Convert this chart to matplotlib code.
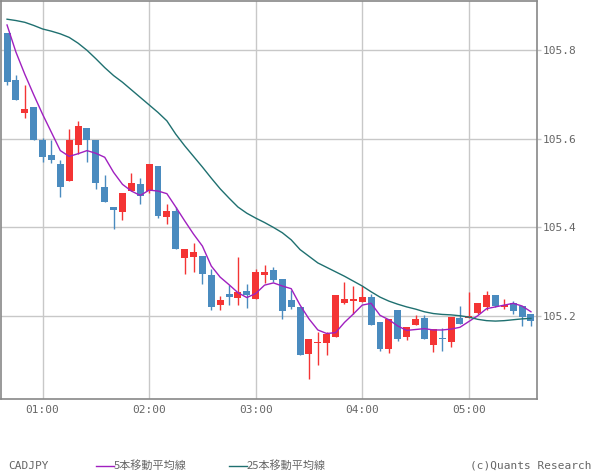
import numpy as np
import pandas as pd
import matplotlib
matplotlib.use("Agg")
import matplotlib.pyplot as plt
from matplotlib.lines import Line2D

# 5-minute CADJPY candles, 00:40 .. 05:35
times = pd.date_range("2020-01-01 00:40", periods=60, freq="5min")
opens = [105.837, 105.733, 105.657, 105.672, 105.596, 105.562, 105.542, 105.504, 105.585, 105.625,
         105.596, 105.490, 105.445, 105.434, 105.482, 105.497, 105.483, 105.539, 105.423, 105.436,
         105.331, 105.333, 105.335, 105.292, 105.225, 105.249, 105.241, 105.256, 105.239, 105.293,
         105.303, 105.283, 105.236, 105.220, 105.114, 105.139, 105.140, 105.153, 105.230, 105.234,
         105.232, 105.243, 105.187, 105.127, 105.213, 105.153, 105.180, 105.196, 105.136, 105.151,
         105.142, 105.196, 105.196, 105.207, 105.220, 105.247, 105.221, 105.229, 105.222, 105.204]
highs = [105.837, 105.744, 105.721, 105.672, 105.601, 105.596, 105.551, 105.622, 105.639, 105.625,
         105.596, 105.519, 105.445, 105.477, 105.522, 105.512, 105.542, 105.539, 105.453, 105.446,
         105.351, 105.364, 105.335, 105.307, 105.246, 105.270, 105.333, 105.272, 105.306, 105.315,
         105.311, 105.283, 105.258, 105.220, 105.148, 105.164, 105.164, 105.247, 105.276, 105.267,
         105.268, 105.249, 105.187, 105.193, 105.213, 105.175, 105.202, 105.202, 105.171, 105.173,
         105.198, 105.222, 105.255, 105.229, 105.257, 105.247, 105.238, 105.234, 105.222, 105.204]
lows = [105.721, 105.686, 105.646, 105.598, 105.547, 105.544, 105.468, 105.504, 105.566, 105.548,
        105.486, 105.457, 105.396, 105.416, 105.482, 105.452, 105.477, 105.422, 105.407, 105.351,
        105.294, 105.299, 105.272, 105.215, 105.213, 105.225, 105.225, 105.219, 105.239, 105.275,
        105.277, 105.194, 105.216, 105.113, 105.059, 105.091, 105.113, 105.153, 105.227, 105.204,
        105.232, 105.180, 105.122, 105.118, 105.144, 105.146, 105.180, 105.149, 105.120, 105.122,
        105.131, 105.183, 105.196, 105.204, 105.214, 105.220, 105.217, 105.205, 105.178, 105.178]
closes = [105.727, 105.686, 105.667, 105.598, 105.558, 105.551, 105.491, 105.596, 105.629, 105.596,
          105.500, 105.457, 105.439, 105.477, 105.500, 105.470, 105.542, 105.426, 105.438, 105.351,
          105.351, 105.344, 105.294, 105.221, 105.236, 105.243, 105.254, 105.248, 105.299, 105.299,
          105.281, 105.212, 105.221, 105.113, 105.148, 105.142, 105.160, 105.247, 105.238, 105.238,
          105.243, 105.180, 105.127, 105.193, 105.149, 105.175, 105.193, 105.149, 105.171, 105.149,
          105.198, 105.183, 105.200, 105.229, 105.247, 105.222, 105.225, 105.212, 105.198, 105.189]
ma5 = [105.856, 105.795, 105.745, 105.699, 105.655, 105.614, 105.573, 105.560, 105.566, 105.573,
       105.567, 105.558, 105.524, 105.497, 105.482, 105.472, 105.484, 105.482, 105.476, 105.446,
       105.415, 105.385, 105.358, 105.313, 105.288, 105.271, 105.253, 105.242, 105.251, 105.270,
       105.275, 105.268, 105.262, 105.225, 105.194, 105.169, 105.161, 105.163, 105.186, 105.205,
       105.225, 105.229, 105.202, 105.192, 105.178, 105.168, 105.170, 105.172, 105.169, 105.169,
       105.171, 105.175, 105.188, 105.201, 105.217, 105.221, 105.225, 105.229, 105.223, 105.210]
ma25 = [105.869, 105.866, 105.862, 105.855, 105.847, 105.842, 105.836, 105.828, 105.815, 105.799,
        105.780, 105.760, 105.742, 105.727, 105.710, 105.693, 105.676, 105.659, 105.640, 105.610,
        105.584, 105.560, 105.536, 105.511, 105.487, 105.466, 105.446, 105.432, 105.421, 105.411,
        105.400, 105.388, 105.372, 105.350, 105.335, 105.320, 105.310, 105.300, 105.290, 105.279,
        105.268, 105.255, 105.243, 105.234, 105.227, 105.221, 105.216, 105.210, 105.206, 105.204,
        105.203, 105.201, 105.198, 105.193, 105.190, 105.189, 105.190, 105.192, 105.194, 105.195]
xtick_labels = ["01:00", "02:00", "03:00", "04:00", "05:00"]
yticks = [105.2, 105.4, 105.6, 105.8]

UP = "#f43434"
DOWN = "#4a8bbf"
TXT = "#666666"
GRID = "#c8c8c8"

fig = plt.figure(figsize=(6, 4.75), dpi=100)
ax = fig.add_axes([1 / 600, 1 - 399 / 475, 536 / 600, 398 / 475])

x = np.arange(len(times))
o = np.array(opens)
c = np.array(closes)
up = c >= o
colors = np.where(up, UP, DOWN)

ax.vlines(x, lows, highs, colors=colors, linewidth=1, zorder=3)
bottom = np.minimum(o, c)
height = np.maximum(np.abs(c - o), 0.0025)
ax.bar(x, height, bottom=bottom, width=0.78, color=colors, linewidth=0, zorder=4)

ax.plot(x, ma5, color="#a020c0", linewidth=1, zorder=5)
ax.plot(x, ma25, color="#1f7070", linewidth=1, zorder=5)

labels = [t.strftime("%H:%M") for t in times]
xticks = [labels.index(s) for s in xtick_labels]
ax.set_xticks(xticks)
ax.set_xticklabels(xtick_labels)
ax.set_yticks(yticks)
ax.set_yticklabels([f"{v:.1f}" for v in yticks])
ax.yaxis.tick_right()

ax.set_xlim(-0.68, 59.68)
ax.set_ylim(105.0135, 105.910)
ax.grid(True, color=GRID, linewidth=1, zorder=0)
ax.set_axisbelow(True)

for s in ax.spines.values():
    s.set_color("#888888")
    s.set_linewidth(1.2)
ax.tick_params(axis="both", colors=TXT, labelsize=8, length=3, width=1)
ax.tick_params(axis="x", length=0, pad=4)
ax.tick_params(axis="y", color=GRID, pad=1)
for lab in ax.get_xticklabels() + ax.get_yticklabels():
    lab.set_family("DejaVu Sans Mono")

# footer legend
jp = ["Noto Sans CJK JP", "DejaVu Sans"]
fy = 1 - 466 / 475
fig.text(8 / 600, fy, "CADJPY", color=TXT, fontsize=8, family="DejaVu Sans Mono", va="center")
fig.add_artist(Line2D([96 / 600, 114 / 600], [fy, fy], color="#a020c0", linewidth=1))
fig.text(114 / 600, fy, "5本移動平均線", color=TXT, fontsize=8, family=jp, va="center")
fig.add_artist(Line2D([229 / 600, 247 / 600], [fy, fy], color="#1f7070", linewidth=1))
fig.text(247 / 600, fy, "25本移動平均線", color=TXT, fontsize=8, family=jp, va="center")
fig.text(591 / 600, fy, "(c)Quants Research", color=TXT, fontsize=8,
         family="DejaVu Sans Mono", va="center", ha="right")

fig.savefig("out.png", dpi=100)
